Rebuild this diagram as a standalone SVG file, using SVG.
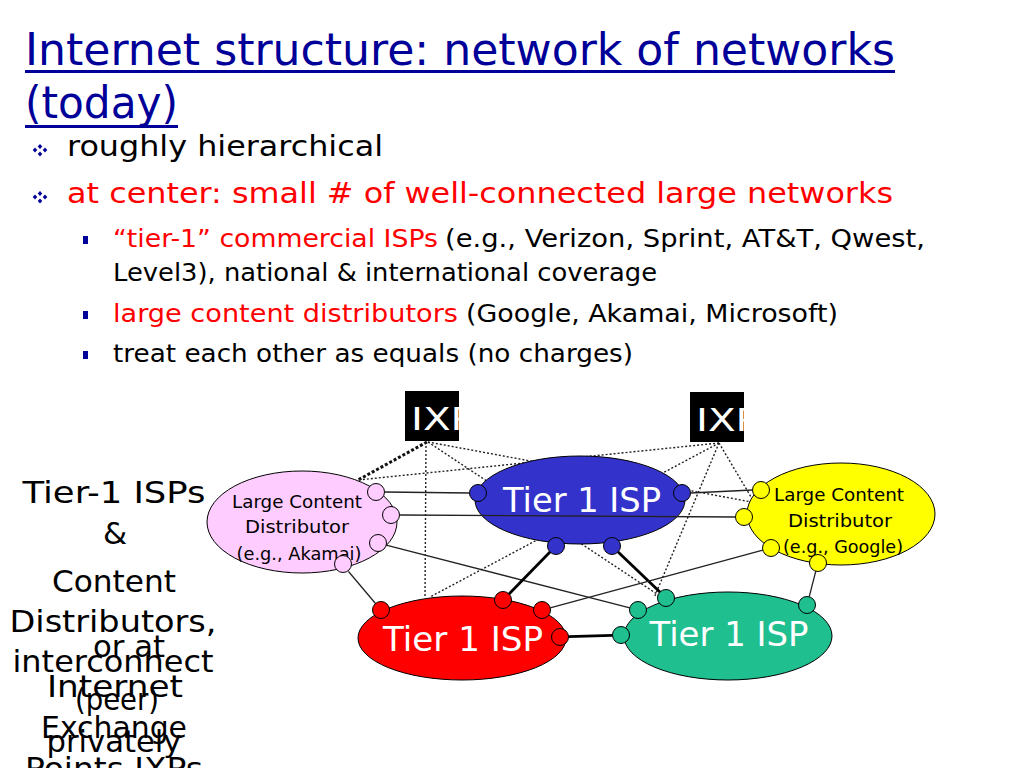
<svg xmlns="http://www.w3.org/2000/svg" width="1024" height="768" viewBox="0 0 1024 768">
<defs>
<style>
text{font-family:"DejaVu Sans","Liberation Sans",sans-serif;}
.title{font-size:44px;fill:#000099;}
.b1{font-size:28px;fill:#000;}
.b2{font-size:24px;fill:#000;}
.red{fill:#ff0000;}
.side{font-size:31px;fill:#000;text-anchor:middle;}
.lbl{font-size:17px;fill:#000;text-anchor:middle;}
.isp{font-size:33px;fill:#fff;text-anchor:middle;}
.ixp{font-size:32px;fill:#fff;}
.ell{stroke:#000;stroke-width:1;}
.port{stroke:#000;stroke-width:1;}
.dot{stroke:#222;stroke-width:1.4;stroke-dasharray:2 2;fill:none;}
.dotb{stroke:#111;stroke-width:3;stroke-dasharray:3 2;fill:none;}
.thin{stroke:#222;stroke-width:1.3;fill:none;}
.thick{stroke:#000;stroke-width:2.8;fill:none;}
.dia{fill:#000099;}
</style>
<clipPath id="clipL"><rect x="405" y="391" width="54" height="50"/></clipPath>
<clipPath id="clipR"><rect x="690" y="392" width="54" height="50"/></clipPath>
</defs>
<rect width="1024" height="768" fill="#fff"/>

<g id="title">
<text class="title" x="25" y="65" textLength="870" lengthAdjust="spacingAndGlyphs">Internet structure: network of networks</text>
<rect x="25" y="70" width="870" height="3" fill="#000099"/>
<text class="title" x="25" y="118" textLength="153" lengthAdjust="spacingAndGlyphs">(today)</text>
<rect x="25" y="125" width="153" height="3" fill="#000099"/>
</g>

<g id="bullets">
<g class="dia">
<polygon points="40,144 42.3,146.5 40,149 37.7,146.5"/>
<polygon points="35,150 37.3,152.5 35,155 32.7,152.5" transform="translate(0,-2.5)"/>
<polygon points="45,150 47.3,152.5 45,155 42.7,152.5" transform="translate(0,-2.5)"/>
<polygon points="40,150 42.3,152.5 40,155 37.7,152.5" transform="translate(0,1.5)"/>
</g>
<g class="dia" transform="translate(0,47)">
<polygon points="40,144 42.3,146.5 40,149 37.7,146.5"/>
<polygon points="35,150 37.3,152.5 35,155 32.7,152.5" transform="translate(0,-2.5)"/>
<polygon points="45,150 47.3,152.5 45,155 42.7,152.5" transform="translate(0,-2.5)"/>
<polygon points="40,150 42.3,152.5 40,155 37.7,152.5" transform="translate(0,1.5)"/>
</g>
<text class="b1" x="67" y="156" textLength="316" lengthAdjust="spacingAndGlyphs">roughly hierarchical</text>
<text class="b1 red" x="67" y="203" textLength="826" lengthAdjust="spacingAndGlyphs">at center: small # of well-connected large networks</text>
<rect x="83" y="236" width="5" height="8" fill="#000099"/>
<rect x="83" y="311" width="5" height="8" fill="#000099"/>
<rect x="83" y="351" width="5" height="8" fill="#000099"/>
<text class="b2 red" x="113" y="247" textLength="325" lengthAdjust="spacingAndGlyphs">“tier-1” commercial ISPs</text>
<text class="b2" x="445" y="247" textLength="480" lengthAdjust="spacingAndGlyphs">(e.g., Verizon, Sprint, AT&amp;T, Qwest,</text>
<text class="b2" x="113" y="281" textLength="544" lengthAdjust="spacingAndGlyphs">Level3), national &amp; international coverage</text>
<text class="b2 red" x="113" y="322" textLength="345" lengthAdjust="spacingAndGlyphs">large content distributors</text>
<text class="b2" x="466" y="322" textLength="372" lengthAdjust="spacingAndGlyphs">(Google, Akamai, Microsoft)</text>
<text class="b2" x="113" y="362" textLength="520" lengthAdjust="spacingAndGlyphs">treat each other as equals (no charges)</text>
</g>

<g id="side-text">
<text class="side" x="114" y="503" textLength="183" lengthAdjust="spacingAndGlyphs">Tier-1 ISPs</text>
<text class="side" x="115" y="544">&amp;</text>
<text class="side" x="114" y="592" textLength="124" lengthAdjust="spacingAndGlyphs">Content</text>
<text class="side" x="113" y="632" textLength="207" lengthAdjust="spacingAndGlyphs">Distributors,</text>
<text class="side" x="113" y="672" textLength="201" lengthAdjust="spacingAndGlyphs">interconnect</text>
<text class="side" x="117" y="710" textLength="84" lengthAdjust="spacingAndGlyphs">(peer)</text>
<text class="side" x="114" y="752" textLength="135" lengthAdjust="spacingAndGlyphs">privately</text>
<text class="side" x="129" y="657" textLength="72" lengthAdjust="spacingAndGlyphs">or at</text>
<text class="side" x="115" y="697" textLength="136" lengthAdjust="spacingAndGlyphs">Internet</text>
<text class="side" x="114" y="738" textLength="146" lengthAdjust="spacingAndGlyphs">Exchange</text>
<text class="side" x="114" y="779" textLength="178" lengthAdjust="spacingAndGlyphs">Points IXPs</text>
</g>

<g id="connectors">
<line class="dotb" x1="427" y1="442" x2="358" y2="480"/>
<line class="dot" x1="426" y1="442" x2="425" y2="598"/>
<line class="dot" x1="428" y1="442" x2="663" y2="598"/>
<line class="dot" x1="428" y1="442" x2="757" y2="503"/>
<line class="dot" x1="719" y1="443" x2="358" y2="480"/>
<line class="dot" x1="719" y1="443" x2="430" y2="597"/>
<line class="dot" x1="719" y1="443" x2="654" y2="598"/>
<line class="dot" x1="719" y1="443" x2="754" y2="502"/>
</g>

<g id="ixp-left">
<rect x="405" y="391" width="54" height="50" fill="#000"/>
<text class="ixp" x="411" y="430" clip-path="url(#clipL)" textLength="64" lengthAdjust="spacingAndGlyphs">IXP</text>
</g>
<g id="ixp-right">
<rect x="690" y="392" width="54" height="50" fill="#000"/>
<text class="ixp" x="696" y="431" clip-path="url(#clipR)" textLength="64" lengthAdjust="spacingAndGlyphs">IXP</text>
</g>

<g id="akamai">
<ellipse class="ell" cx="302" cy="522" rx="95" ry="51" fill="#FFCCFF"/>
<text class="lbl" x="297" y="508" textLength="130" lengthAdjust="spacingAndGlyphs">Large Content</text>
<text class="lbl" x="297" y="533" textLength="104" lengthAdjust="spacingAndGlyphs">Distributor</text>
<text class="lbl" x="299" y="560" textLength="125" lengthAdjust="spacingAndGlyphs">(e.g., Akamai)</text>
<circle class="port" cx="376" cy="492" r="8.5" fill="#FFCCFF"/>
<circle class="port" cx="391" cy="515" r="8.5" fill="#FFCCFF"/>
<circle class="port" cx="378" cy="543" r="8.5" fill="#FFCCFF"/>
<circle class="port" cx="343" cy="564" r="8.5" fill="#FFCCFF"/>
</g>

<g id="isp-blue">
<ellipse class="ell" cx="580" cy="500" rx="105" ry="44" fill="#3333CC"/>
<text class="isp" x="582" y="512" textLength="158" lengthAdjust="spacingAndGlyphs">Tier 1 ISP</text>
<circle class="port" cx="478" cy="493" r="8.5" fill="#3333CC"/>
<circle class="port" cx="682" cy="493" r="8.5" fill="#3333CC"/>
<circle class="port" cx="556" cy="546" r="8.5" fill="#3333CC"/>
<circle class="port" cx="612" cy="546" r="8.5" fill="#3333CC"/>
</g>

<g id="google">
<ellipse class="ell" cx="841" cy="514" rx="94" ry="51" fill="#FFFF00"/>
<text class="lbl" x="839" y="501" textLength="130" lengthAdjust="spacingAndGlyphs">Large Content</text>
<text class="lbl" x="840" y="527" textLength="104" lengthAdjust="spacingAndGlyphs">Distributor</text>
<text class="lbl" x="843" y="553" textLength="120" lengthAdjust="spacingAndGlyphs">(e.g., Google)</text>
<circle class="port" cx="761" cy="490" r="8.5" fill="#FFFF00"/>
<circle class="port" cx="744" cy="517" r="8.5" fill="#FFFF00"/>
<circle class="port" cx="771" cy="548" r="8.5" fill="#FFFF00"/>
<circle class="port" cx="818" cy="563" r="8.5" fill="#FFFF00"/>
</g>

<g id="isp-red">
<ellipse class="ell" cx="462" cy="638" rx="104" ry="42" fill="#FF0000"/>
<text class="isp" x="463" y="651" textLength="160" lengthAdjust="spacingAndGlyphs">Tier 1 ISP</text>
<circle class="port" cx="381" cy="610" r="8.5" fill="#FF0000"/>
<circle class="port" cx="503" cy="600" r="8.5" fill="#FF0000"/>
<circle class="port" cx="542" cy="610" r="8.5" fill="#FF0000"/>
<circle class="port" cx="560" cy="637" r="8.5" fill="#FF0000"/>
</g>

<g id="isp-green">
<ellipse class="ell" cx="728" cy="636" rx="104" ry="44" fill="#1FBF8F"/>
<text class="isp" x="729" y="646" textLength="159" lengthAdjust="spacingAndGlyphs">Tier 1 ISP</text>
<circle class="port" cx="621" cy="635" r="8.5" fill="#1FBF8F"/>
<circle class="port" cx="638" cy="610" r="8.5" fill="#1FBF8F"/>
<circle class="port" cx="666" cy="598" r="8.5" fill="#1FBF8F"/>
<circle class="port" cx="807" cy="605" r="8.5" fill="#1FBF8F"/>
</g>

<g id="links">
<line class="thin" x1="384.5" y1="492" x2="469.5" y2="493"/>
<line class="thin" x1="399.5" y1="515" x2="735.5" y2="517"/>
<line class="thin" x1="690.5" y1="493" x2="752.5" y2="490"/>
<line class="thin" x1="386.2" y1="545.1" x2="629.8" y2="607.9"/>
<line class="thin" x1="348.5" y1="571.5" x2="375.5" y2="603.5"/>
<line class="thick" x1="550" y1="552.1" x2="509" y2="593.9"/>
<line class="thick" x1="618.1" y1="551.9" x2="659.9" y2="592.1"/>
<line class="thin" x1="550.2" y1="607.8" x2="762.8" y2="550.2"/>
<line class="thick" x1="568.5" y1="636.7" x2="612.5" y2="635.3"/>
<line class="thin" x1="815.8" y1="571.2" x2="809.2" y2="596.8"/>
</g>
</svg>
